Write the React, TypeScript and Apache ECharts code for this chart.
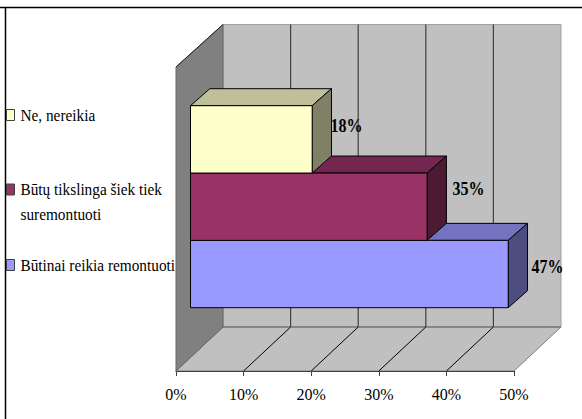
import React, { useEffect, useRef } from "react";
import * as echarts from "echarts";

const categories = ["Būtinai reikia remontuoti", "Būtų tikslinga šiek tiek\nsuremontuoti", "Ne, nereikia"];
const values = [47, 35, 18];
const axisTicks = [0, 10, 20, 30, 40, 50];
const faceColors = ["#9999FF", "#993366", "#FFFFCC"];
const topColors = ["#7373BF", "#732650", "#BFBF99"];
const sideColors = ["#4D4D80", "#4D1A33", "#808066"];

const FONT = '"Liberation Serif", "Times New Roman", serif';
const WALL_DX = 47;
const WALL_DY = 44;
const FLOOR_DROP = 63.3;
const BAR_INSET = 14.5;
const BAR_DX = 19.3;
const BAR_DY = 17;
const LABEL_NUDGE = [
  [4, -7],
  [6, -18],
  [-1, -13],
];
const LEGEND_Y = [265, 189.5, 115];

function poly(points: number[][], fill: string, stroke: string, lineWidth = 1) {
  return { type: "polygon", shape: { points }, style: { fill, stroke, lineWidth } };
}
function seg(x1: number, y1: number, x2: number, y2: number, stroke: string, lineWidth = 1) {
  return { type: "line", shape: { x1, y1, x2, y2 }, style: { stroke, lineWidth } };
}

export default function App() {
  const ref = useRef<HTMLDivElement>(null);
  useEffect(() => {
    document.body.style.margin = "0";
    const chart = echarts.init(ref.current!, null, { renderer: "svg" });
    const legendGraphics: any[] = [];
    categories.forEach((c, i) => {
      legendGraphics.push({
        type: "rect",
        shape: { x: 6.5, y: LEGEND_Y[i] - 5.5, width: 8, height: 11 },
        style: { fill: faceColors[i], stroke: "#404040", lineWidth: 1 },
      });
      legendGraphics.push({
        type: "text",
        x: 20.5,
        y: c.includes("\n") ? LEGEND_Y[i] + 12.5 : LEGEND_Y[i],
        scaleX: 0.9,
        style: {
          text: c,
          font: `17px ${FONT}`,
          fill: "#000",
          lineHeight: 25,
          verticalAlign: "middle",
          align: "left",
        },
      });
    });
    chart.setOption({
      animation: false,
      backgroundColor: "#fff",
      grid: { left: 176, right: 68, top: 105.7, height: 202, containLabel: false },
      xAxis: {
        type: "value",
        min: 0,
        max: 50,
        interval: 10,
        position: "bottom",
        offset: FLOOR_DROP,
        axisLine: { show: true, lineStyle: { color: "#000", width: 1 } },
        axisTick: { show: true, length: 5, lineStyle: { color: "#404040" } },
        axisLabel: { formatter: "{value}%", fontFamily: FONT, fontSize: 16, color: "#000", margin: 15 },
        splitLine: { show: false },
      },
      yAxis: { type: "category", data: categories, show: false },
      graphic: [
        seg(0, 7.5, 582, 7.5, "#000", 1.5),
        seg(5.5, 7, 5.5, 419, "#000", 1.5),
        ...legendGraphics,
      ],
      series: [
        {
          type: "custom",
          name: "walls",
          silent: true,
          z: 1,
          data: [[0, 0]],
          encode: { x: 0 },
          renderItem: (p: any, api: any) => {
            const left = api.coord([0, 0])[0];
            const right = api.coord([50, 0])[0];
            const b = (p.coordSys.y + p.coordSys.height) as number;
            const fy = b + FLOOR_DROP;
            const backBottom = fy - WALL_DY;
            const backTop = 24.5;
            const wallTop = backTop + WALL_DY - 1.5;
            return {
              type: "group",
              children: [
                poly(
                  [[left + WALL_DX, backTop], [right + WALL_DX, backTop], [right + WALL_DX, backBottom], [left + WALL_DX, backBottom]],
                  "#C0C0C0",
                  "#A0A0A0",
                ),
                poly(
                  [[left, fy], [right, fy], [right + WALL_DX, backBottom], [left + WALL_DX, backBottom]],
                  "#C0C0C0",
                  "#808080",
                ),
                poly(
                  [[left, wallTop], [left + WALL_DX, backTop], [left + WALL_DX, backBottom], [left, fy]],
                  "#808080",
                  "#666666",
                ),
                seg(left, wallTop, left + WALL_DX, backTop, "#202020"),
                seg(left + WALL_DX, backBottom, right + WALL_DX, backBottom, "#707070", 1.2),
              ],
            };
          },
        },
        {
          type: "custom",
          name: "gridlines",
          silent: true,
          z: 2,
          data: axisTicks.slice(1, -1).map((t) => [t, 0]),
          encode: { x: 0 },
          renderItem: (p: any, api: any) => {
            const x = api.coord([api.value(0), 0])[0];
            const b = (p.coordSys.y + p.coordSys.height) as number;
            const fy = b + FLOOR_DROP;
            return {
              type: "group",
              children: [
                seg(x, fy, x + WALL_DX, fy - WALL_DY, "#000"),
                seg(x + WALL_DX, fy - WALL_DY, x + WALL_DX, 24.5, "#404040", 1.2),
              ],
            };
          },
        },
        {
          type: "custom",
          name: "Share",
          z: 3,
          data: values.map((v, i) => [v, i]),
          encode: { x: 0, y: 1 },
          renderItem: (p: any, api: any) => {
            const i = p.dataIndex as number;
            const v = api.value(0) as number;
            const c = api.coord([v, i]);
            const h = api.size([0, 1])[1] as number;
            const x0 = api.coord([0, i])[0] + BAR_INSET;
            const x1 = c[0] + BAR_INSET;
            const y0 = c[1] - h / 2;
            const y1 = c[1] + h / 2;
            const s = "#000";
            return {
              type: "group",
              children: [
                poly([[x0, y0], [x1, y0], [x1 + BAR_DX, y0 - BAR_DY], [x0 + BAR_DX, y0 - BAR_DY]], topColors[i], s),
                poly([[x1, y0], [x1 + BAR_DX, y0 - BAR_DY], [x1 + BAR_DX, y1 - BAR_DY], [x1, y1]], sideColors[i], s),
                poly([[x0, y0], [x1, y0], [x1, y1], [x0, y1]], faceColors[i], s),
                {
                  type: "text",
                  x: x1 + BAR_DX + LABEL_NUDGE[i][0],
                  y: c[1] + LABEL_NUDGE[i][1],
                  scaleX: 0.89,
                  style: {
                    text: `${v}%`,
                    font: `bold 18px ${FONT}`,
                    fill: "#000",
                    align: "left",
                    verticalAlign: "middle",
                  },
                },
              ],
            };
          },
        },
      ],
    });
    return () => chart.dispose();
  }, []);
  return <div ref={ref} style={{ position: "absolute", left: 0, top: 0, width: 582, height: 419 }} />;
}
